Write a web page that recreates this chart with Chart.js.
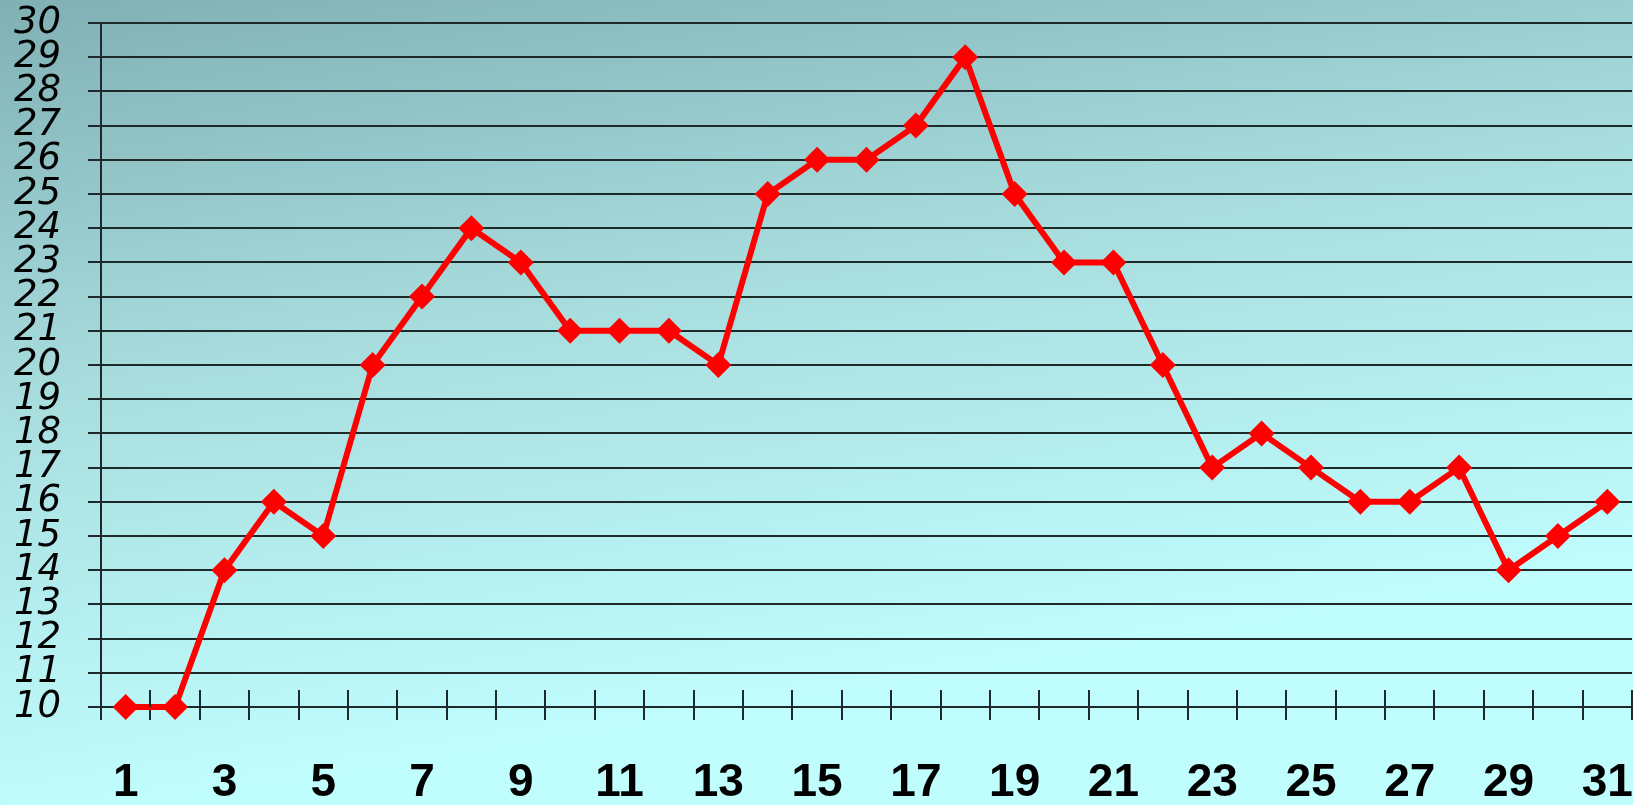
<!DOCTYPE html>
<html>
<head>
<meta charset="utf-8">
<script src="https://cdn.jsdelivr.net/npm/chart.js@4/dist/chart.umd.min.js"></script>
<style>
html,body{margin:0;padding:0;background:#a8dcdc;}
#wrap{width:1633px;height:805px;}
</style>
</head>
<body>
<div id="wrap"><canvas id="c" width="1633" height="805"></canvas></div>
<script>
const categories = ["1","2","3","4","5","6","7","8","9","10","11","12","13","14","15","16","17","18","19","20","21","22","23","24","25","26","27","28","29","30","31"];
const values = [10,10,14,16,15,20,22,24,23,21,21,21,20,25,26,26,27,29,25,23,23,20,17,18,17,16,16,17,14,15,16];
const yMin = 10, yMax = 30, yStep = 1;

const bgPlugin = {
  id: 'bg',
  beforeDraw(chart) {
    const {ctx, width, height} = chart;
    ctx.save();
    const g = ctx.createLinearGradient(0, 0, width * 0.08, height);
    g.addColorStop(0, '#80b0b4');
    g.addColorStop(0.5, '#a9dedf');
    g.addColorStop(1, '#c0fdfd');
    ctx.fillStyle = g;
    ctx.fillRect(0, 0, width, height);
    ctx.restore();
  }
};

const innerTicks = {
  id: 'innerTicks',
  afterDatasetsDraw(chart) {
    const x = chart.scales.x, y = chart.scales.y;
    const ctx = chart.ctx;
    const base = y.getPixelForValue(yMin);
    ctx.save();
    ctx.strokeStyle = '#1e2a2a';
    ctx.lineWidth = 2;
    ctx.beginPath();
    for (let i = 0; i <= categories.length; i++) {
      const px = Math.round(x.getPixelForValue(i - 0.5));
      ctx.moveTo(px, base - 17);
      ctx.lineTo(px, base);
    }
    ctx.stroke();
    ctx.restore();
  }
};

new Chart(document.getElementById('c'), {
  type: 'line',
  data: {
    labels: categories,
    datasets: [{
      data: values,
      borderColor: '#ff0000',
      backgroundColor: '#ff0000',
      borderWidth: 6,
      pointStyle: 'rectRot',
      pointRadius: 13,
      pointHoverRadius: 13,
      pointBorderWidth: 0,
      pointBackgroundColor: '#ff0000',
      tension: 0,
      clip: false
    }]
  },
  options: {
    responsive: false,
    animation: false,
    devicePixelRatio: 1,
    layout: {autoPadding: false, padding: {top: 23, right: 1, left: 14, bottom: 0}},
    plugins: {legend: {display: false}, tooltip: {enabled: false}},
    scales: {
      x: {
        type: 'category',
        offset: true,
        afterFit(s) { s.height = 98; s.paddingRight = 0; s.paddingLeft = 0; },
        border: {display: false},
        grid: {
          offset: true,
          drawOnChartArea: true,
          color: (c) => (c.index === 0 || c.index === categories.length) ? '#1e2a2a' : 'rgba(0,0,0,0)',
          tickColor: '#1e2a2a',
          lineWidth: 2,
          tickLength: 13
        },
        ticks: {
          autoSkip: false,
          maxRotation: 0,
          padding: 0,
          color: '#000',
          font: {family: 'Liberation Sans', weight: 'bold', size: 46, lineHeight: 2.74},
          callback: (v, i) => (i % 2 === 0 ? categories[i] : '')
        }
      },
      y: {
        min: yMin,
        max: yMax,
        afterFit(s) { s.width = 87; },
        border: {display: true, color: '#1e2a2a', width: 2},
        grid: {
          color: '#1e2a2a',
          tickColor: '#1e2a2a',
          lineWidth: 2,
          tickLength: 13
        },
        ticks: {
          stepSize: yStep,
          autoSkip: false,
          maxTicksLimit: 30,
          padding: 0,
          crossAlign: 'far',
          color: '#000',
          font: {family: 'DejaVu Sans', style: 'italic', size: 37},
          callback: (v) => String(v)
        }
      }
    }
  },
  plugins: [bgPlugin, innerTicks]
});
</script>
</body>
</html>
